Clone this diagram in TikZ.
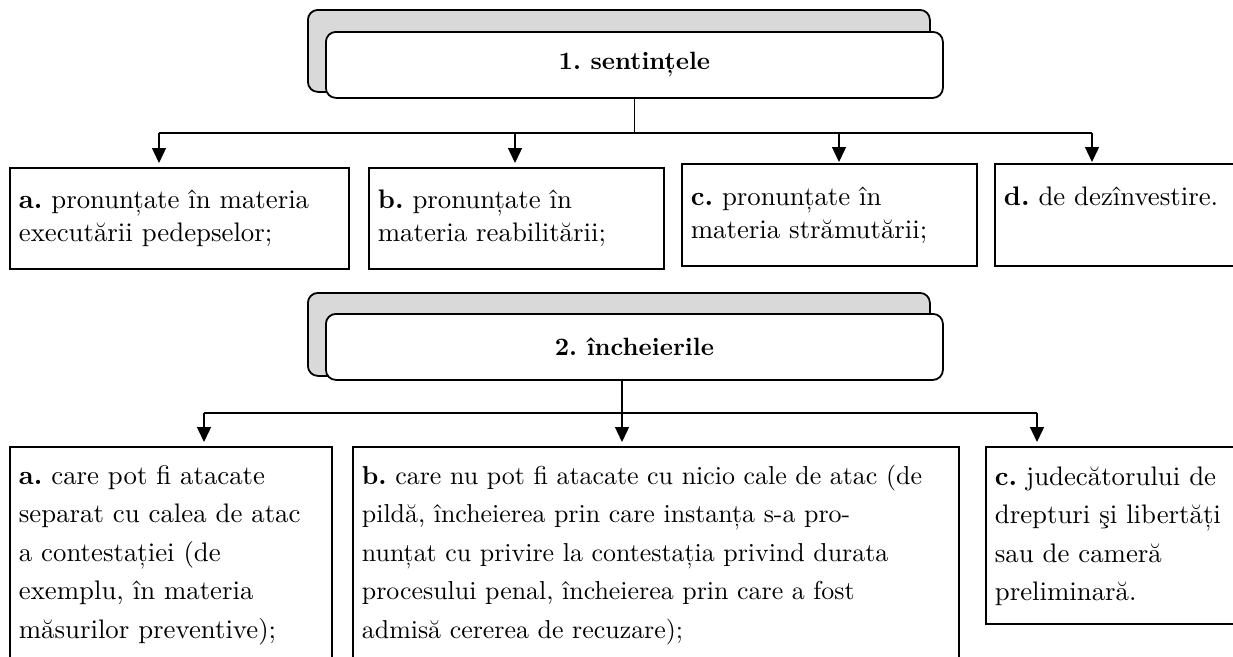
\documentclass[tikz,border=0pt]{standalone}
\usepackage{fontspec}
\setmainfont{lmroman10-regular.otf}[BoldFont=lmroman10-bold.otf]
\usetikzlibrary{arrows.meta}
\newcommand\boxlines[1]{\begin{tabular}{@{}l@{}}#1\end{tabular}}
\frenchspacing
\begin{document}
\begin{tikzpicture}[x=1pt,y=-1pt,
  txtA/.style={font=\fontsize{26.8}{33}\selectfont},
  txtB/.style={font=\fontsize{26.8}{38.5}\selectfont},
  txtBn/.style={font=\fontsize{25.9}{38.5}\selectfont},
  box/.style={draw, line width=1.8pt, anchor=north west, inner xsep=9pt, inner ysep=0pt, align=left},
  hshadow/.style={draw, line width=1.8pt, fill=gray!30, rounded corners=10pt, anchor=north west},
  hfront/.style={draw, line width=1.8pt, fill=white, rounded corners=10pt, anchor=north west, font=\fontsize{25}{30}\selectfont\bfseries},
  link/.style={line width=1.4pt},
  arr/.style={line width=1.4pt, -{Triangle[length=15pt,width=14pt]}}]
\useasboundingbox (0,0) rectangle (1233,656);
\clip (0,0) rectangle (1233,656);

% ---------- header 1 ----------
\node[hshadow, minimum width=622pt, minimum height=82pt] (sh1) at (307,9) {};
\node[hfront, minimum width=617pt, minimum height=66pt] (s1) at (325,31) {1. sentințele};

% ---------- row 1 boxes ----------
\node[box, txtA, minimum width=339pt, minimum height=101pt, text width=321pt] (a1) at (9,167)
  {\boxlines{\textbf{a.} pronunțate în materia\\ executării pedepselor;}};
\node[box, txtA, minimum width=295pt, minimum height=101pt, text width=277pt] (b1) at (368,167)
  {\boxlines{\textbf{b.} pronunțate în\\ materia reabilitării;}};
\node[box, txtA, minimum width=295pt, minimum height=102pt, text width=277pt] (c1) at (681,163)
  {\boxlines{\textbf{c.} pronunțate în\\ materia strămutării;}};
\node[box, txtA, minimum width=300pt, minimum height=102pt, text width=282pt] (d1) at (994,163)
  {\boxlines{\textbf{d.} de dezînvestire.\\ \mbox{}}};

% ---------- connectors row 1 ----------
\coordinate (xa1) at (159,133);
\coordinate (xb1) at (515,133);
\coordinate (xc1) at (839,133);
\coordinate (xd1) at (1092,133);
\draw[link] (s1.south) -- (s1.south |- xa1);
\draw[link] (xa1) -- (xd1);
\draw[arr, shorten >=4pt] (xa1) -- (xa1 |- a1.north);
\draw[arr, shorten >=4pt] (xb1) -- (xb1 |- b1.north);
\draw[arr, shorten >=1pt] (xc1) -- (xc1 |- c1.north);
\draw[arr, shorten >=1pt] (xd1) -- (xd1 |- d1.north);

% ---------- header 2 ----------
\node[hshadow, minimum width=622pt, minimum height=83pt] (sh2) at (307,292) {};
\node[hfront, minimum width=617pt, minimum height=66pt] (s2) at (325,313) {2. încheierile};

% ---------- row 2 boxes ----------
\node[box, txtB, minimum width=322pt, minimum height=213pt, text width=304pt] (a2) at (9,446)
  {\boxlines{\textbf{a.} care pot fi atacate\\ separat cu calea de atac\\ a contestației (de\\ exemplu, în materia\\ măsurilor preventive);}};
\node[box, txtBn, minimum width=606pt, minimum height=213pt, text width=588pt] (b2) at (352,446)
  {\boxlines{\textbf{b.} care nu pot fi atacate cu nicio cale de atac (de\\ pildă, încheierea prin care instanța s-a pro-\\ nunțat cu privire la contestația privind durata\\ procesului penal, încheierea prin care a fost\\ admisă cererea de recuzare);}};
\node[box, txtB, minimum width=300pt, minimum height=177pt, text width=282pt] (c2) at (985,446)
  {\boxlines{\textbf{c.} judecătorului de\\ drepturi şi libertăți\\ sau de cameră\\ preliminară.}};

% ---------- connectors row 2 ----------
\coordinate (xa2) at (204,413);
\coordinate (xb2) at (622,413);
\coordinate (xc2) at (1037,413);
\draw[link] (xb2 |- s2.south) -- (xb2);
\draw[link] (xa2) -- (xc2);
\draw[arr, shorten >=4pt] (xa2) -- (xa2 |- a2.north);
\draw[arr, shorten >=4pt] (xb2) -- (xb2 |- b2.north);
\draw[arr, shorten >=4pt] (xc2) -- (xc2 |- c2.north);
\end{tikzpicture}
\end{document}
